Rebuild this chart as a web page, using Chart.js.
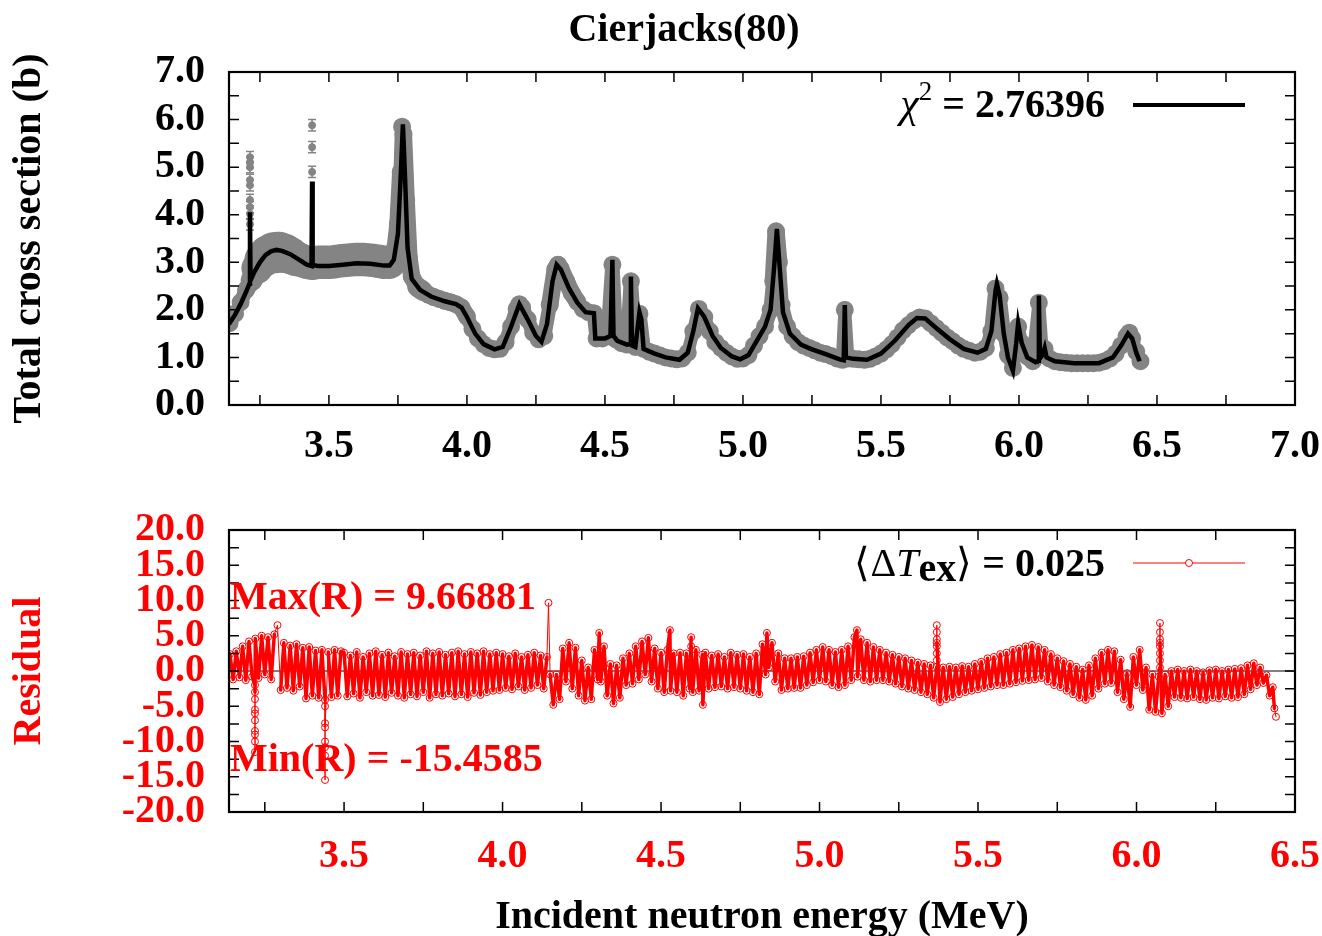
<!DOCTYPE html>
<html><head><meta charset="utf-8">
<script src="https://cdn.jsdelivr.net/npm/chart.js@4.4.1/dist/chart.umd.min.js"></script>
<style>
html,body{margin:0;padding:0;background:#fff;overflow:hidden;}
#wrap{position:relative;width:1322px;height:936px;overflow:hidden;}
#c1{position:absolute;left:0;top:0;}
#c2{position:absolute;left:0;top:480px;}
</style></head><body>
<div id="wrap"><canvas id="c1" width="1322" height="480"></canvas><canvas id="c2" width="1322" height="462"></canvas></div>
<script>
// ---------- DATA ----------
// Fitted total cross section (black curve), energy in MeV, sigma in b
const fitE = [3.138,3.16,3.18,3.20,3.212,3.214,3.216,3.23,3.25,3.27,
  3.29,3.31,3.33,3.36,3.39,3.42,3.437,3.439,3.441,3.46,
  3.50,3.55,3.60,3.65,3.70,3.72,3.735,3.75,3.76,3.768,
  3.775,3.785,3.80,3.83,3.87,3.92,3.96,3.98,4.00,4.03,
  4.06,4.10,4.13,4.16,4.19,4.22,4.25,4.27,4.29,4.31,
  4.325,4.34,4.37,4.40,4.43,4.46,4.465,4.50,4.52,4.527,
  4.531,4.545,4.58,4.592,4.594,4.598,4.61,4.625,4.632,4.64,
  4.68,4.72,4.77,4.80,4.82,4.837,4.86,4.89,4.92,4.96,
  4.99,5.02,5.05,5.08,5.10,5.113,5.123,5.133,5.145,5.17,
  5.21,5.25,5.30,5.35,5.365,5.369,5.373,5.40,5.45,5.50,
  5.55,5.60,5.63,5.66,5.70,5.75,5.80,5.85,5.88,5.90,
  5.915,5.92,5.93,5.945,5.96,5.978,5.99,5.997,6.01,6.03,
  6.06,6.069,6.072,6.076,6.085,6.093,6.10,6.13,6.20,6.29,
  6.34,6.37,6.395,6.41,6.425,6.437];
const fitS = [1.70,1.90,2.12,2.38,2.55,4.05,2.62,2.80,3.00,3.15,
  3.23,3.26,3.24,3.17,3.06,2.95,2.92,4.70,2.95,2.92,
  2.92,2.95,2.98,2.97,2.93,2.93,3.05,3.6,4.8,5.90,
  4.9,3.3,2.65,2.42,2.28,2.18,2.12,2.05,1.85,1.50,
  1.28,1.17,1.22,1.65,2.12,1.80,1.45,1.33,1.70,2.60,
  2.95,2.85,2.45,2.15,1.95,1.93,1.40,1.40,1.45,3.05,
  1.45,1.35,1.27,1.28,2.70,1.25,1.22,1.95,1.80,1.18,
  1.08,1.00,0.95,1.10,1.55,2.03,1.85,1.45,1.20,1.02,
  0.96,1.05,1.35,1.65,2.00,2.9,3.70,2.9,1.95,1.50,
  1.27,1.17,1.07,0.96,0.94,2.10,1.00,0.97,0.95,1.08,
  1.35,1.68,1.83,1.82,1.62,1.38,1.18,1.10,1.18,1.55,
  2.40,2.55,2.30,1.50,1.00,0.72,1.30,1.72,1.30,1.00,
  0.90,0.93,2.30,0.98,1.05,1.20,1.00,0.92,0.88,0.88,
  1.00,1.25,1.50,1.40,1.10,0.92];

// Experimental data (grey points with error bars)
const expE = [3.14,3.16,3.18,3.20,3.22,3.24,3.26,3.28,3.30,3.32,
  3.34,3.36,3.38,3.40,3.42,3.44,3.46,3.48,3.50,3.52,
  3.54,3.56,3.58,3.60,3.62,3.64,3.66,3.68,3.70,3.72,
  3.74,3.75,3.76,3.765,3.77,3.78,3.79,3.80,3.82,3.84,
  3.86,3.88,3.90,3.92,3.94,3.96,3.98,4.00,4.02,4.04,
  4.06,4.08,4.10,4.12,4.14,4.16,4.18,4.19,4.20,4.22,
  4.24,4.26,4.28,4.30,4.32,4.33,4.34,4.36,4.38,4.40,
  4.42,4.44,4.46,4.47,4.49,4.51,4.527,4.54,4.56,4.58,
  4.594,4.61,4.625,4.64,4.66,4.68,4.70,4.72,4.74,4.76,
  4.78,4.80,4.82,4.84,4.86,4.88,4.90,4.92,4.94,4.96,
  4.98,5.00,5.02,5.04,5.06,5.08,5.10,5.11,5.12,5.13,
  5.14,5.16,5.18,5.20,5.22,5.24,5.26,5.28,5.30,5.32,
  5.34,5.36,5.369,5.38,5.40,5.42,5.44,5.46,5.48,5.50,
  5.52,5.54,5.56,5.58,5.60,5.62,5.64,5.66,5.68,5.70,
  5.72,5.74,5.76,5.78,5.80,5.82,5.84,5.86,5.88,5.90,
  5.915,5.93,5.945,5.96,5.978,5.99,5.997,6.01,6.03,6.05,
  6.072,6.085,6.093,6.11,6.13,6.15,6.17,6.19,6.21,6.23,
  6.25,6.27,6.29,6.31,6.33,6.35,6.37,6.39,6.40,6.41,
  6.425,6.44];
const expS = [1.72,1.92,2.16,2.42,2.62,2.88,3.06,3.16,3.20,3.21,
  3.19,3.14,3.08,3.04,3.00,2.98,3.00,3.00,3.00,3.01,
  3.03,3.04,3.05,3.06,3.06,3.05,3.04,3.02,3.00,2.98,
  3.30,3.80,4.90,5.85,5.70,4.30,3.10,2.70,2.48,2.40,
  2.32,2.27,2.23,2.19,2.16,2.12,2.05,1.86,1.60,1.40,
  1.28,1.20,1.17,1.18,1.32,1.65,2.02,2.12,2.05,1.80,
  1.52,1.38,1.45,2.10,2.85,2.95,2.86,2.60,2.35,2.17,
  2.02,1.95,1.93,1.40,1.40,1.44,2.95,1.38,1.30,1.27,
  2.60,1.22,1.92,1.18,1.12,1.08,1.04,1.00,0.98,0.96,
  0.98,1.10,1.55,2.02,1.85,1.55,1.32,1.20,1.10,1.02,
  0.97,0.98,1.05,1.25,1.45,1.65,2.00,2.60,3.65,3.00,
  2.10,1.65,1.45,1.32,1.25,1.20,1.15,1.10,1.07,1.03,
  0.98,0.95,2.00,0.98,0.97,0.96,0.95,0.97,1.02,1.08,
  1.17,1.28,1.42,1.57,1.68,1.78,1.84,1.82,1.72,1.62,
  1.52,1.42,1.34,1.25,1.18,1.14,1.10,1.12,1.20,1.55,
  2.45,2.25,1.50,1.05,0.78,1.30,1.65,1.30,1.02,0.92,
  2.15,1.05,1.18,0.98,0.92,0.90,0.89,0.88,0.88,0.88,
  0.88,0.88,0.89,0.92,0.98,1.08,1.25,1.45,1.52,1.40,
  1.12,0.92];
const expErr = [.10,.10,.12,.15,.20,.30,.35,.38,.40,.40,
  .38,.36,.34,.32,.32,.32,.32,.32,.32,.32,
  .32,.32,.32,.32,.32,.32,.32,.32,.32,.30,
  .15,.15,.15,.12,.15,.15,.15,.15,.18,.18,
  .15,.15,.15,.15,.15,.15,.15,.15,.12,.12,
  .12,.12,.12,.12,.12,.12,.12,.12,.12,.12,
  .12,.12,.12,.15,.15,.15,.15,.15,.15,.15,
  .12,.12,.12,.12,.12,.12,.12,.12,.12,.12,
  .12,.12,.12,.12,.10,.10,.10,.10,.10,.10,
  .10,.10,.10,.10,.10,.10,.10,.10,.10,.10,
  .10,.10,.10,.10,.12,.12,.12,.15,.15,.15,
  .12,.12,.12,.10,.10,.10,.10,.10,.10,.10,
  .10,.10,.12,.10,.10,.10,.10,.10,.10,.10,
  .10,.10,.10,.10,.10,.10,.10,.10,.10,.10,
  .10,.10,.10,.10,.10,.10,.10,.10,.10,.12,
  .15,.12,.12,.10,.10,.12,.12,.10,.10,.10,
  .12,.10,.10,.10,.10,.10,.10,.10,.10,.10,
  .10,.10,.10,.10,.10,.10,.10,.12,.12,.12,
  .10,.10];
// isolated experimental points above the narrow resonances
const outE = [3.214,3.214,3.214,3.214,3.214,3.214,3.214,3.214,3.214,3.439,3.439,3.439];
const outS = [3.80,4.02,4.16,4.31,4.62,4.73,5.00,5.10,5.21,4.90,5.42,5.88];
const outErr = [.12,.12,.12,.12,.12,.12,.12,.12,.12,.12,.12,.12];

// Residuals (red)
const resE = [3.14,3.15,3.16,3.17,3.18,3.19,
  3.20,3.21,3.219,3.219,3.219,3.219,3.219,3.219,3.219,3.219,3.219,3.219,3.22,3.23,3.24,3.25,3.26,3.27,3.28,3.29,
  3.30,3.31,3.32,3.33,3.34,3.35,3.36,3.37,3.38,3.39,
  3.40,3.41,3.42,3.43,3.44,3.44,3.44,3.44,3.44,3.44,3.44,3.44,3.45,3.46,3.47,3.48,3.49,
  3.50,3.51,3.52,3.53,3.54,3.55,3.56,3.57,3.58,3.59,
  3.60,3.61,3.62,3.63,3.64,3.65,3.66,3.67,3.68,3.69,
  3.70,3.71,3.72,3.73,3.74,3.75,3.76,3.77,3.78,3.79,
  3.80,3.81,3.82,3.83,3.84,3.85,3.86,3.87,3.88,3.89,
  3.90,3.91,3.92,3.93,3.94,3.95,3.96,3.97,3.98,3.99,
  4.00,4.01,4.02,4.03,4.04,4.05,4.06,4.07,4.08,4.09,
  4.10,4.11,4.12,4.13,4.14,4.145,4.15,4.16,4.17,4.18,4.19,
  4.20,4.21,4.22,4.23,4.24,4.25,4.26,4.27,4.28,4.29,
  4.30,4.305,4.31,4.32,4.33,4.34,4.35,4.36,4.37,4.38,4.39,
  4.40,4.41,4.42,4.43,4.44,4.45,4.46,4.47,4.48,4.49,
  4.50,4.51,4.52,4.528,4.53,4.54,4.55,4.56,4.57,4.58,4.59,4.595,4.595,
  4.60,4.61,4.62,4.63,4.632,4.64,4.65,4.66,4.67,4.68,4.69,
  4.70,4.71,4.72,4.73,4.74,4.75,4.76,4.77,4.78,4.79,
  4.80,4.81,4.82,4.83,4.834,4.84,4.85,4.86,4.87,4.88,4.89,
  4.90,4.91,4.92,4.93,4.94,4.95,4.96,4.97,4.98,4.99,
  5.00,5.01,5.02,5.03,5.04,5.05,5.06,5.07,5.08,5.09,
  5.10,5.11,5.118,5.12,5.13,5.14,5.15,5.16,5.17,5.18,5.19,
  5.20,5.21,5.22,5.23,5.24,5.25,5.26,5.27,5.28,5.29,
  5.30,5.31,5.32,5.33,5.34,5.35,5.36,5.37,5.37,5.37,5.37,5.37,5.37,5.37,5.37,5.38,5.39,
  5.40,5.41,5.42,5.43,5.44,5.45,5.46,5.47,5.48,5.49,
  5.50,5.51,5.52,5.53,5.54,5.55,5.56,5.57,5.58,5.59,
  5.60,5.61,5.62,5.63,5.64,5.65,5.66,5.67,5.68,5.69,
  5.70,5.71,5.72,5.73,5.74,5.75,5.76,5.77,5.78,5.79,
  5.80,5.81,5.82,5.83,5.84,5.85,5.86,5.87,5.88,5.89,
  5.90,5.91,5.92,5.93,5.94,5.95,5.96,5.97,5.98,5.99,
  6.00,6.01,6.02,6.03,6.04,6.05,6.06,6.07,6.074,6.074,6.074,6.074,6.074,6.074,6.074,6.074,6.08,6.09,
  6.10,6.11,6.12,6.13,6.14,6.15,6.16,6.17,6.18,6.19,
  6.20,6.21,6.22,6.23,6.24,6.25,6.26,6.27,6.28,6.29,
  6.30,6.31,6.32,6.33,6.34,6.35,6.36,6.37,6.38,6.39,
  6.40,6.41,6.42,6.43,6.435,6.44];
const resV = [2.4,-1.2,2.8,-0.9,3.5,-1.3,
  4.2,-0.8,-2.0,-4.0,-5.5,-7.0,-8.5,-10.0,-11.5,-9.0,-6.0,-3.0,4.6,-1.0,5.0,-0.5,4.8,-1.2,5.2,6.5,
  -2.7,4.0,-2.4,3.6,-2.8,3.8,-2.2,3.3,-3.9,3.4,
  -3.5,2.9,-3.8,3.0,-4.1,-5.0,-7.4,-10.0,-10.8,-15.4585,-12.0,-8.0,2.7,-3.7,3.0,-3.5,2.8,
  2.6,-3.6,2.2,-3.2,2.7,-3.8,2.0,-3.0,2.5,-3.5,
  2.8,-3.4,2.3,-3.7,2.6,-3.1,2.1,-3.5,2.7,-3.8,
  2.4,-3.3,2.6,-3.6,2.2,-3.0,2.8,-3.8,2.5,-3.3,
  2.7,-3.5,2.3,-3.2,2.6,-3.6,2.8,-3.3,2.4,-3.7,
  2.7,-3.1,2.5,-3.4,2.8,-3.0,2.4,-2.8,2.6,-2.7,
  2.4,-2.4,2.1,-2.6,2.5,-2.2,2.0,-2.7,2.3,-2.4,
  2.6,-2.0,2.2,-2.5,2.0,9.66881,-0.5,-4.8,-0.5,-4.0,3.2,
  -1.5,4.0,-2.5,3.3,-3.5,1.5,-4.2,0.5,-4.0,3.0,
  -1.2,5.4,-1.5,3.5,-3.5,1.0,-4.6,0.8,-3.8,1.8,-2.0,
  2.5,-1.8,3.5,-1.2,4.2,-0.5,4.7,-1.5,3.2,-2.5,
  2.6,-3.0,3.0,5.8,-2.8,2.5,-3.0,2.6,-3.5,2.5,-2.5,4.8,3.5,
  -3.0,3.0,-2.8,2.3,-4.8,2.6,-2.5,2.2,-2.3,2.4,-2.2,
  2.0,-2.5,2.6,-2.3,2.3,-2.5,2.4,-2.8,2.0,-3.0,
  2.5,-3.3,3.8,-0.5,5.4,0.5,4.0,-1.5,2.5,-2.7,1.8,
  -2.5,1.8,-2.4,2.0,-2.4,2.1,-2.0,2.6,-1.6,3.0,
  -1.3,3.4,-1.5,3.0,-2.0,2.7,-2.3,3.0,-2.0,3.5,
  -1.3,4.8,5.8,-0.8,4.5,-1.3,4.0,-1.5,3.4,-1.3,3.0,
  -1.3,2.6,-1.5,2.3,-1.8,2.0,-2.2,1.8,-2.5,1.5,
  -2.7,1.2,-3.0,1.0,-3.3,0.8,-3.8,0.6,1.5,2.5,3.5,4.5,5.5,6.5,4.0,-4.4,0.5,
  -4.0,0.6,-3.7,0.5,-3.3,0.7,-3.0,0.6,-2.8,1.0,
  -2.6,1.3,-2.4,1.8,-2.2,2.0,-2.0,2.4,-2.0,2.6,
  -1.8,3.0,-1.6,3.2,-1.4,3.5,-1.3,3.7,-1.2,3.4,
  -1.0,3.0,-1.5,2.4,-2.0,1.8,-2.3,1.4,-2.8,1.0,
  -3.3,0.6,-3.8,0.2,-4.1,0.8,-3.5,1.8,-2.5,2.6,
  -1.8,3.0,-1.7,2.8,-3.0,1.6,-4.0,-0.3,-5.1,2.0,
  -2.0,3.0,-2.7,0.5,-5.5,-0.5,-5.8,-0.8,0.5,1.5,2.5,3.5,4.5,5.5,6.8,4.0,-6.0,-0.5,
  -5.0,0.0,-3.7,0.2,-3.8,0.0,-3.9,0.2,-3.7,0.0,
  -4.0,-0.2,-4.1,0.1,-3.8,0.2,-3.9,0.0,-3.6,0.2,
  -3.8,0.3,-3.7,0.4,-3.3,0.8,-2.6,1.1,-2.0,0.5,
  -1.7,-0.6,-3.5,-2.3,-5.3,-6.5];

// Axis ticks
const topXTicks = [3.5,4.0,4.5,5.0,5.5,6.0,6.5,7.0];
const topXMinor = [3.25,3.5,3.75,4.0,4.25,4.5,4.75,5.0,5.25,5.5,5.75,6.0,6.25,6.5,6.75];
const topYTicks = [0,1,2,3,4,5,6,7];
const topYMinor = [0.5,1,1.5,2,2.5,3,3.5,4,4.5,5,5.5,6,6.5];
const botXTicks = [3.5,4.0,4.5,5.0,5.5,6.0,6.5];
const botXMinor = [3.25,3.5,3.75,4.0,4.25,4.5,4.75,5.0,5.25,5.5,5.75,6.0,6.25];
const botYTicks = [-20,-15,-10,-5,0,5,10,15,20];
const botYMinor = [-17.5,-15,-12.5,-10,-7.5,-5,-2.5,0,2.5,5,7.5,10,12.5,15,17.5];

const chiSq = '2.76396';
const meanDT = '0.025';
const maxR = '9.66881';
const minR = '-15.4585';

// ---------- DRAWING ----------
const SERIF = "'Liberation Serif','Times New Roman',Times,serif";
const RED = '#ff0000';
const GREY = '#848484';

function pts(xs, ys){ const n=Math.min(xs.length, ys.length); const a=[]; for(let i=0;i<n;i++) a.push({x:xs[i],y:ys[i]}); return a; }

function drawRuns(ctx, runs, x, y, align){
  let total = 0;
  runs.forEach(r=>{ ctx.font=r.font; r.w=ctx.measureText(r.t).width; total+=r.w; });
  let cx = align==='right' ? x-total : (align==='center' ? x-total/2 : x);
  ctx.textBaseline='alphabetic'; ctx.textAlign='left';
  runs.forEach(r=>{ ctx.font=r.font; ctx.fillStyle=r.color; ctx.fillText(r.t, cx, y+(r.dy||0)); cx+=r.w; });
}

const framePlugin = {
  id:'frame',
  afterDraw(chart, args, o){
    const {ctx, chartArea:a, scales:{x, y}} = chart;
    ctx.save();
    ctx.strokeStyle='#000';
    ctx.lineWidth=1.5;
    const L=10;
    o.xMinor.forEach(v=>{ const p=x.getPixelForValue(v);
      ctx.beginPath(); ctx.moveTo(p,a.bottom); ctx.lineTo(p,a.bottom-L); ctx.moveTo(p,a.top); ctx.lineTo(p,a.top+L); ctx.stroke(); });
    o.yMinor.forEach(v=>{ const p=y.getPixelForValue(v);
      ctx.beginPath(); ctx.moveTo(a.left,p); ctx.lineTo(a.left+L,p); ctx.moveTo(a.right,p); ctx.lineTo(a.right-L,p); ctx.stroke(); });
    ctx.lineWidth=2.2;
    ctx.strokeRect(a.left, a.top, a.right-a.left, a.bottom-a.top);
    ctx.restore();
  }
};

const errPlugin = {
  id:'errbars',
  beforeDatasetDraw(chart, args){
    if(args.index!==0) return;
    const {ctx, chartArea:a, scales:{x, y}} = chart;
    ctx.save();
    ctx.beginPath(); ctx.rect(a.left,a.top,a.right-a.left,a.bottom-a.top); ctx.clip();
    ctx.strokeStyle=GREY; ctx.lineWidth=1.5;
    const sets=[[expE,expS,expErr],[outE,outS,outErr]];
    sets.forEach(([E,S,R])=>{
      for(let i=0;i<Math.min(E.length,S.length,R.length);i++){
        const px=x.getPixelForValue(E[i]);
        const y1=y.getPixelForValue(S[i]-R[i]), y2=y.getPixelForValue(S[i]+R[i]);
        ctx.beginPath();
        ctx.moveTo(px,y1); ctx.lineTo(px,y2);
        ctx.moveTo(px-4,y1); ctx.lineTo(px+4,y1);
        ctx.moveTo(px-4,y2); ctx.lineTo(px+4,y2);
        ctx.stroke();
      }
    });
    ctx.restore();
  }
};

const topText = {
  id:'topText',
  afterDraw(chart){
    const ctx=chart.ctx; ctx.save();
    drawRuns(ctx,[{t:'Cierjacks(80)',font:'bold 40px '+SERIF,color:'#000'}],684,41,'center');
    drawRuns(ctx,[
      {t:'\u03C7',font:'italic 42px '+SERIF,color:'#000'},
      {t:'2',font:'27px '+SERIF,color:'#000',dy:-17},
      {t:' = '+chiSq,font:'bold 40px '+SERIF,color:'#000'}
    ],1105,117,'right');
    ctx.strokeStyle='#000'; ctx.lineWidth=4;
    ctx.beginPath(); ctx.moveTo(1133,105); ctx.lineTo(1245,105); ctx.stroke();
    ctx.restore();
  }
};

const botText = {
  id:'botText',
  beforeDatasetsDraw(chart){
    const {ctx, chartArea:a, scales:{y}} = chart;
    const p=y.getPixelForValue(0);
    ctx.save(); ctx.strokeStyle='#000'; ctx.lineWidth=1;
    ctx.beginPath(); ctx.moveTo(a.left,p); ctx.lineTo(a.right,p); ctx.stroke(); ctx.restore();
  },
  afterDraw(chart){
    const ctx=chart.ctx; ctx.save();
    drawRuns(ctx,[
      {t:'\u27E8\u0394',font:'40px '+SERIF,color:'#000'},
      {t:'T',font:'italic 40px '+SERIF,color:'#000'},
      {t:'ex',font:'bold 40px '+SERIF,color:'#000',dy:5},
      {t:'\u27E9',font:'40px '+SERIF,color:'#000'},
      {t:' = '+meanDT,font:'bold 40px '+SERIF,color:'#000'}
    ],1105,96,'right');
    ctx.strokeStyle=RED; ctx.lineWidth=1;
    ctx.beginPath(); ctx.moveTo(1133,83); ctx.lineTo(1245,83); ctx.stroke();
    ctx.beginPath(); ctx.arc(1189,83,3.5,0,Math.PI*2); ctx.fillStyle='#fff'; ctx.fill(); ctx.stroke();
    drawRuns(ctx,[{t:'Max(R) = '+maxR,font:'bold 40px '+SERIF,color:RED}],230,129,'left');
    drawRuns(ctx,[{t:'Min(R) = '+minR,font:'bold 40px '+SERIF,color:RED}],230,291,'left');
    ctx.restore();
  }
};

const tickFont = {family:SERIF,size:40,weight:'bold'};
const fmt = v => Number(v).toFixed(1);
const noPad = s => { s.paddingLeft=0; s.paddingRight=0; };

new Chart(document.getElementById('c1'), {
  type:'scatter',
  data:{datasets:[
    {data:pts(fitE,fitS), showLine:true, borderColor:'#000', borderWidth:4.5, pointRadius:0, tension:0},
    {data:pts(outE,outS), showLine:false, pointRadius:3.5, pointBackgroundColor:GREY, pointBorderColor:GREY},
    {data:pts(expE,expS), showLine:true, borderColor:GREY, borderWidth:13, pointRadius:2.5,
     pointBackgroundColor:GREY, pointBorderColor:GREY, tension:0, borderJoinStyle:'round', borderCapStyle:'round',
     segment:{borderWidth:c=>{
       const ys=c.chart.scales.y; const i=c.p0DataIndex, j=c.p1DataIndex;
       const e=Math.min(expErr[i]||0, expErr[j]||0);
       const h=Math.abs(ys.getPixelForValue(0)-ys.getPixelForValue(e));
       return Math.max(13, 2*h+3);
     }}}
  ]},
  options:{
    responsive:false, animation:false, events:[],
    layout:{padding:{top:72,right:27,left:0,bottom:0}},
    plugins:{legend:{display:false},tooltip:{enabled:false},title:{display:false},
      frame:{xMinor:topXMinor,yMinor:topYMinor}},
    scales:{
      x:{type:'linear',min:3.138,max:7.0,
        grid:{display:false,drawTicks:false}, border:{display:false},
        afterBuildTicks:s=>{s.ticks=topXTicks.map(v=>({value:v}));},
        afterFit:s=>{s.height=75; noPad(s);},
        ticks:{font:tickFont,color:'#000',padding:18,maxRotation:0,autoSkip:false,callback:fmt}},
      y:{type:'linear',min:0,max:7,
        grid:{display:false,drawTicks:false}, border:{display:false},
        afterBuildTicks:s=>{s.ticks=topYTicks.map(v=>({value:v}));},
        afterFit:s=>{s.width=229;},
        ticks:{font:tickFont,color:'#000',padding:24,autoSkip:false,callback:fmt},
        title:{display:true,text:'Total cross section (b)',color:'#000',font:tickFont,padding:{top:6,bottom:0}}}
    }
  },
  plugins:[framePlugin,errPlugin,topText]
});

new Chart(document.getElementById('c2'), {
  type:'scatter',
  data:{datasets:[
    {data:pts(resE,resV), showLine:true, borderColor:RED, borderWidth:3.5, tension:0,
     borderJoinStyle:'round', borderCapStyle:'round',
     pointRadius:3.5, pointBorderWidth:1, pointBorderColor:RED, pointBackgroundColor:'rgba(0,0,0,0)',
     segment:{borderWidth:c=>{
       const a=c.p0.parsed, b=c.p1.parsed;
       return (a.x===b.x || Math.abs(a.y)>6 || Math.abs(b.y)>6) ? 1 : 3.5;
     }}}
  ]},
  options:{
    responsive:false, animation:false, events:[],
    layout:{padding:{top:50,right:27,left:0,bottom:0}},
    plugins:{legend:{display:false},tooltip:{enabled:false},title:{display:false},
      frame:{xMinor:botXMinor,yMinor:botYMinor}},
    scales:{
      x:{type:'linear',min:3.137,max:6.5,
        grid:{display:false,drawTicks:false}, border:{display:false},
        afterBuildTicks:s=>{s.ticks=botXTicks.map(v=>({value:v}));},
        afterFit:s=>{s.height=130; noPad(s);},
        ticks:{font:tickFont,color:RED,padding:21,maxRotation:0,autoSkip:false,callback:fmt},
        title:{display:true,text:'Incident neutron energy (MeV)',color:'#000',font:tickFont,padding:{top:0,bottom:0}}},
      y:{type:'linear',min:-20,max:20,
        grid:{display:false,drawTicks:false}, border:{display:false},
        afterBuildTicks:s=>{s.ticks=botYTicks.map(v=>({value:v}));},
        afterFit:s=>{s.width=229;},
        ticks:{font:tickFont,color:RED,padding:24,autoSkip:false,callback:fmt},
        title:{display:true,text:'Residual',color:RED,font:tickFont,padding:{top:6,bottom:0}}}
    }
  },
  plugins:[framePlugin,botText]
});
</script>
</body></html>
